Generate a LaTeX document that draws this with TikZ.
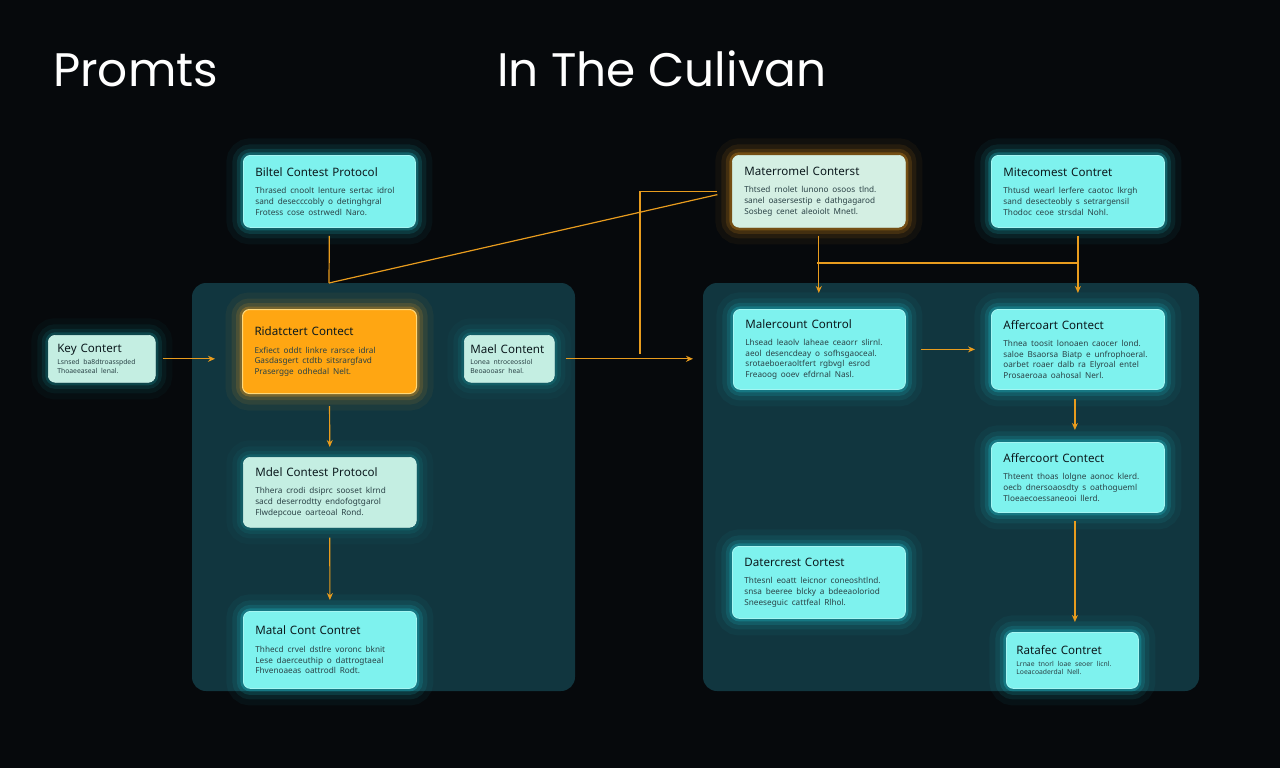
\documentclass[tikz,border=0pt]{standalone}
\usepackage{fontspec}
\setmainfont{Noto Sans}
\newfontfamily\titlefont{Poppins}
\usetikzlibrary{arrows.meta,calc}
\definecolor{bgc}{HTML}{06090C}
\definecolor{panelc}{HTML}{11363F}
\definecolor{cyanbox}{HTML}{7EF2EE}
\definecolor{cyanglow}{HTML}{1FC6D2}
\definecolor{orangebox}{HTML}{FFA612}
\definecolor{orangeedge}{HTML}{FFD87A}
\definecolor{orangeglow}{HTML}{F0A020}
\definecolor{mintbox}{HTML}{C4EEE2}
\definecolor{paleorange}{HTML}{D4EFE3}
\definecolor{arrowc}{HTML}{E89C1E}
\definecolor{ttlc}{HTML}{0C1A1E}
\definecolor{bdyc}{HTML}{2A4246}
\newcommand\ttl{\fontsize{11.6}{14}\selectfont\color{ttlc}}
\newcommand\bdy{\fontsize{8.2}{10.6}\selectfont\color{bdyc}}
\newcommand\bodytext[1]{\par\vspace{7pt}\begingroup\bdy #1\par\endgroup}
\newcommand\smallbody[1]{\par\vspace{3pt}\begingroup\fontsize{6.8}{8.6}\selectfont\color{bdyc}#1\par\endgroup}
\tikzset{
  glow/.style={preaction={draw=#1,line width=34pt,opacity=0.05},
               preaction={draw=#1,line width=22pt,opacity=0.09},
               preaction={draw=#1,line width=13pt,opacity=0.15},
               preaction={draw=#1,line width=6pt,opacity=0.28}},
  basebox/.style={rectangle,rounded corners=7pt,anchor=north west,align=left,
               inner xsep=13pt,inner ysep=6pt,font=\ttl},
  cbox/.style={basebox,fill=cyanbox,draw=cyanbox!70!white,line width=0.8pt,glow=cyanglow},
  obox/.style={basebox,fill=orangebox,draw=orangeedge,line width=1pt,glow=orangeglow},
  mbox/.style={basebox,fill=mintbox,draw=mintbox!80!white,line width=0.6pt,glow=cyanglow!70!black},
  pbox/.style={basebox,fill=paleorange,draw=paleorange,line width=0.6pt,glow=orangeglow},
  panel/.style={fill=panelc,rounded corners=14pt},
  link/.style={draw=arrowc,line width=1.2pt},
  arr/.style={link,-{Stealth[length=7pt,width=6pt]}},
  ttlnode/.style={anchor=base west,inner sep=0pt,text=white,font=\titlefont\fontsize{47}{52}\selectfont}
}
\begin{document}
\begin{tikzpicture}[x=1pt,y=-1pt]
\fill[bgc] (0,0) rectangle (1280,768);
\useasboundingbox (0,0) rectangle (1280,768);
% titles
\node[ttlnode] (t1) at (53,87) {Promts};
\node[ttlnode] (t2) at (497,87) {In The Culivan};
% panels
\path[panel] (192,283) rectangle (575,691);
\path[panel] (703,283) rectangle (1199,691);
% left column
\node[cbox,minimum width=172pt,text width=148pt,inner xsep=12pt,minimum height=72pt] (bil) at (243,155)
 {Biltel Contest Protocol\bodytext{Thrased cnoolt lenture sertac idrol\\sand desecccobly o detinghgral\\Frotess cose ostrwedl Naro.}};
\node[obox,minimum width=174pt,text width=150pt,inner xsep=12pt,minimum height=84pt] (rid) at (242,309)
 {Ridatctert Contect\bodytext{Exfiect oddt linkre rarsce idral\\Gasdasgert ctdtb sitsrargfavd\\Prasergge odhedal Nelt.}};
\node[mbox,minimum width=107pt,text width=89pt,minimum height=47pt,inner xsep=9pt] (key) at (48,335)
 {Key Contert\smallbody{Lsnsed ba8dtroasspded\\Thoaeeaseal lenal.}};
\node[mbox,minimum width=90pt,text width=78pt,minimum height=47pt,inner xsep=6pt] (mael) at (464,335)
 {\mbox{Mael Content}\smallbody{Lonea ntroceosslol\\Beoaooasr heal.}};
\node[mbox,minimum width=173pt,text width=149pt,inner xsep=12pt,minimum height=70pt] (mdel) at (243,457)
 {Mdel Contest Protocol\bodytext{Thhera crodi dsiprc sooset klrnd\\sacd deserrodtty endofogtgarol\\Flwdepcoue oarteoal Rond.}};
\node[cbox,minimum width=173pt,text width=149pt,inner xsep=12pt,minimum height=77pt] (mat) at (243,611)
 {Matal Cont Contret\bodytext{Thhecd crvel dstlre voronc bknit\\Lese daerceuthip o dattrogtaeal\\Fhvenoaeas oattrodl Rodt.}};
% right column
\node[pbox,minimum width=173pt,text width=149pt,inner xsep=12pt,minimum height=72pt] (mtr) at (732,155)
 {Materromel Conterst\bodytext{Thtsed rnolet lunono osoos tlnd.\\sanel oasersestip e dathgagarod\\Sosbeg cenet aleoiolt Mnetl.}};
\node[cbox,minimum width=173pt,text width=149pt,inner xsep=12pt,minimum height=72pt] (mit) at (991,155)
 {Mitecomest Contret\bodytext{Thtusd wearl lerfere caotoc lkrgh\\sand desecteobly s setrargensil\\Thodoc ceoe strsdal Nohl.}};
\node[cbox,minimum width=172pt,text width=148pt,inner xsep=12pt,minimum height=80pt] (mal) at (733,309)
 {Malercount Control\bodytext{Lhsead leaolv laheae ceaorr slirnl.\\aeol desencdeay o sofhsgaoceal.\\srotaeboeraoltfert rgbvgl esrod\\Freaoog ooev efdrnal Nasl.}};
\node[cbox,minimum width=173pt,text width=149pt,inner xsep=12pt,minimum height=80pt] (af1) at (991,309)
 {Affercoart Contect\bodytext{Thnea toosit lonoaen caocer lond.\\saloe Bsaorsa Biatp e unfrophoeral.\\oarbet roaer dalb ra Elyroal entel\\Prosaeroaa oahosal Nerl.}};
\node[cbox,minimum width=173pt,text width=149pt,inner xsep=12pt,minimum height=70pt] (af2) at (991,442)
 {Affercoort Contect\bodytext{Thteent thoas lolgne aonoc klerd.\\oecb dnersoaosdty s oathogueml\\Tloeaecoessaneooi llerd.}};
\node[cbox,minimum width=173pt,text width=149pt,inner xsep=12pt,minimum height=72pt] (dat) at (732,546)
 {Datercrest Cortest\bodytext{Thtesnl eoatt leicnor coneoshtlnd.\\snsa beeree blcky a bdeeaoloriod\\Sneeseguic cattfeal Rlhol.}};
\node[cbox,minimum width=132pt,text width=112pt,minimum height=56pt,inner xsep=10pt] (rat) at (1006,632)
 {Ratafec Contret\smallbody{Lrnae tnorl loae seoer licnl.\\Loeacoaderdal Nell.}};
% junction coordinates
\coordinate (j1) at (329,283);
\coordinate (jx) at (640,354);
\coordinate (h1) at (817,263);
\coordinate (h2) at (1077,263);
\coordinate (a2s) at ([xshift=-3pt]af2.south);
% connectors left
\draw[arr,shorten <=7pt,shorten >=27pt] (key.east) -- (rid.west |- key.east);
\draw[link,shorten <=8pt] (bil.south) -- (j1);
\draw[link,shorten >=15pt] (j1) -- (mtr.west);
\draw[link,shorten <=15pt] (mtr.west) -| (jx);
\draw[arr,shorten <=11pt,shorten >=40pt] (mael.east) -- (mal.west |- mael.east);
\draw[arr,shorten <=12pt,shorten >=10pt] (rid.south) -- (mdel.north);
\draw[arr,shorten <=10pt,shorten >=11pt] (mdel.south) -- (mat.north);
% connectors right
\draw[arr,shorten <=8pt,shorten >=16pt] (mtr.south) -- (mal.north -| mtr.south);
\draw[link] (h1) -- (h2);
\draw[arr,shorten <=8pt,shorten >=16pt] (mit.south) -- (af1.north);
\draw[arr,shorten <=15pt,shorten >=16pt] (mal.east) -- (af1.west);
\draw[arr,shorten <=9pt,shorten >=12pt] ([xshift=-3pt]af1.south) -- ([xshift=-3pt]af2.north);
\draw[arr,shorten <=8pt,shorten >=10pt] (a2s) -- (rat.north -| a2s);
\end{tikzpicture}
\end{document}
